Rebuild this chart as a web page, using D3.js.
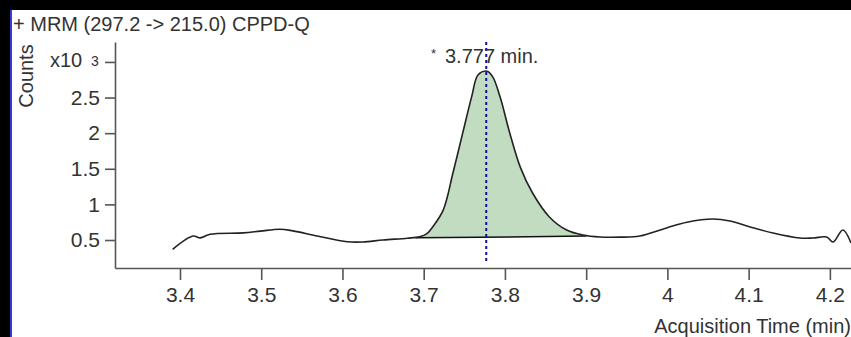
<!DOCTYPE html>
<html>
<head>
<meta charset="utf-8">
<script src="https://cdn.jsdelivr.net/npm/d3@7"></script>
<style>
  html, body { margin: 0; padding: 0; background: #000; }
  svg { display: block; font-family: "Liberation Sans", Arial, sans-serif; }
</style>
</head>
<body>
<div id="chart-area"></div>
<script>
// chromatogram values (counts in x10^3)
const timeValues = [3.391, 3.416, 3.425, 3.437, 3.478, 3.499, 3.523, 3.539, 3.569, 3.606, 3.625, 3.650, 3.680, 3.695,
  3.704, 3.711, 3.724, 3.736, 3.748, 3.759, 3.767, 3.778, 3.785, 3.794, 3.806, 3.819, 3.834, 3.855, 3.876, 3.896,
  3.917, 3.942, 3.966, 3.999, 4.024, 4.056, 4.077, 4.102, 4.130, 4.163, 4.179, 4.196, 4.204, 4.216, 4.226];
const countValues = [0.37, 0.556, 0.53, 0.58, 0.60, 0.625, 0.652, 0.628, 0.556, 0.475, 0.472, 0.50, 0.525, 0.545,
  0.59, 0.683, 0.92, 1.44, 2.0, 2.51, 2.82, 2.87, 2.79, 2.51, 2.0, 1.52, 1.16, 0.82, 0.64, 0.57,
  0.542, 0.54, 0.556, 0.67, 0.75, 0.795, 0.767, 0.683, 0.598, 0.528, 0.528, 0.542, 0.472, 0.64, 0.458];

const xTicks = [3.4, 3.5, 3.6, 3.7, 3.8, 3.9, 4.0, 4.1, 4.2];
const yTicks = [0.5, 1, 1.5, 2, 2.5, 3];

// integrated peak: start / end of baseline
const peakStart = [3.69, 0.53];
const peakEnd = [3.90, 0.555];
const peakApex = 3.777;

const titleText = "+ MRM (297.2 -> 215.0) CPPD-Q";
const xLabel = "Acquisition Time (min)";
const yLabel = "Counts";

const width = 851;
const height = 337;
const plot = { left: 115, right: 851, top: 42, bottom: 268 };

const textColor = "#333";
const axisColor = "#555";
const peakFill = "#c2dcc2";

const data = timeValues.map((t, i) => ({ t: t, v: countValues[i] }));

const x = d3.scaleLinear().domain([3.32, 4.226]).range([plot.left, plot.right]);
const y = d3.scaleLinear().domain([0.107, 3.28]).range([plot.bottom, plot.top]);

const svg = d3
  .select("#chart-area")
  .append("svg")
  .attr("width", width)
  .attr("height", height);

// window frame
svg.append("rect").attr("width", width).attr("height", height).attr("fill", "#000");
svg.append("rect").attr("x", 12).attr("y", 10).attr("width", width - 12).attr("height", height - 10).attr("fill", "#fff");
svg.append("line")
  .attr("x1", 11).attr("x2", 11).attr("y1", 10).attr("y2", height)
  .attr("stroke", "#3a3ad0").attr("stroke-width", 2);

svg.append("defs").append("clipPath").attr("id", "plot-clip")
  .append("rect")
  .attr("x", plot.left).attr("y", plot.top)
  .attr("width", plot.right - plot.left).attr("height", plot.bottom - plot.top);

// baseline as a function of time
const baseAt = (t) => peakStart[1] + (t - peakStart[0]) * (peakEnd[1] - peakStart[1]) / (peakEnd[0] - peakStart[0]);

//peak fill, clipped to integration range
svg.append("clipPath").attr("id", "peak-clip")
  .append("rect")
  .attr("x", x(peakStart[0])).attr("y", plot.top)
  .attr("width", x(peakEnd[0]) - x(peakStart[0])).attr("height", plot.bottom - plot.top);

const area = d3.area()
  .x((d) => x(d.t))
  .y0((d) => y(baseAt(d.t)))
  .y1((d) => y(Math.max(d.v, baseAt(d.t))))
  .curve(d3.curveCatmullRom.alpha(0.5));

svg.append("path")
  .datum(data)
  .attr("clip-path", "url(#peak-clip)")
  .attr("d", area)
  .attr("fill", peakFill);

svg.append("line")
  .attr("x1", x(peakStart[0])).attr("y1", y(peakStart[1]))
  .attr("x2", x(peakEnd[0])).attr("y2", y(peakEnd[1]))
  .attr("stroke", "#111").attr("stroke-width", 1.5);

// trace
const line = d3.line()
  .x((d) => x(d.t))
  .y((d) => y(d.v))
  .curve(d3.curveCatmullRom.alpha(0.5));

svg.append("path")
  .datum(data)
  .attr("clip-path", "url(#plot-clip)")
  .attr("d", line)
  .attr("fill", "none")
  .attr("stroke", "#222")
  .attr("stroke-width", 1.6)
  .attr("stroke-linejoin", "round");

// apex marker
svg.append("line")
  .attr("x1", x(peakApex)).attr("x2", x(peakApex))
  .attr("y1", 42).attr("y2", 262)
  .attr("stroke", "#1010a0")
  .attr("stroke-width", 2)
  .attr("stroke-dasharray", "3,3");

// axes
const xAxis = d3.axisBottom(x)
  .tickValues(xTicks)
  .tickFormat((d) => String(+d.toFixed(1)))
  .tickSize(12)
  .tickSizeOuter(0)
  .tickPadding(7);

const yAxis = d3.axisLeft(y)
  .tickValues(yTicks)
  .tickFormat((d) => (d === 3 ? "" : String(d)))
  .tickSize(10)
  .tickSizeOuter(0)
  .tickPadding(5);

const gx = svg.append("g").attr("transform", `translate(0, ${plot.bottom})`).call(xAxis);
const gy = svg.append("g").attr("transform", `translate(${plot.left}, 0)`).call(yAxis);

[gx, gy].forEach((g) => {
  g.select(".domain").attr("stroke", axisColor).attr("stroke-width", 1.6);
  g.selectAll(".tick line").attr("stroke", axisColor).attr("stroke-width", 1.6);
  g.selectAll(".tick text")
    .attr("fill", textColor)
    .style("font-size", "21px")
    .style("font-family", "'Liberation Sans', Arial, sans-serif");
});

//TEXT
svg.append("text")
  .attr("x", 13).attr("y", 31)
  .attr("fill", textColor)
  .style("font-size", "20px")
  .text(titleText);

svg.append("text")
  .attr("transform", "translate(33, 76) rotate(-90)")
  .attr("text-anchor", "middle")
  .attr("fill", textColor)
  .style("font-size", "20px")
  .text(yLabel);

const mult = svg.append("text")
  .attr("x", 50).attr("y", 67)
  .attr("fill", textColor)
  .style("font-size", "20px");
mult.append("tspan").text("x10");
mult.append("tspan").attr("x", 91).attr("y", 66).style("font-size", "14px").text("3");

const peakLabel = svg.append("text")
  .attr("fill", textColor)
  .style("font-size", "20px");
peakLabel.append("tspan").attr("x", 431).attr("y", 58).style("font-size", "13px").text("*");
peakLabel.append("tspan").attr("x", 445).attr("y", 63).text(peakApex.toFixed(3) + " min.");

svg.append("text")
  .attr("x", 851).attr("y", 333)
  .attr("text-anchor", "end")
  .attr("fill", textColor)
  .style("font-size", "20px")
  .text(xLabel);
</script>
</body>
</html>
